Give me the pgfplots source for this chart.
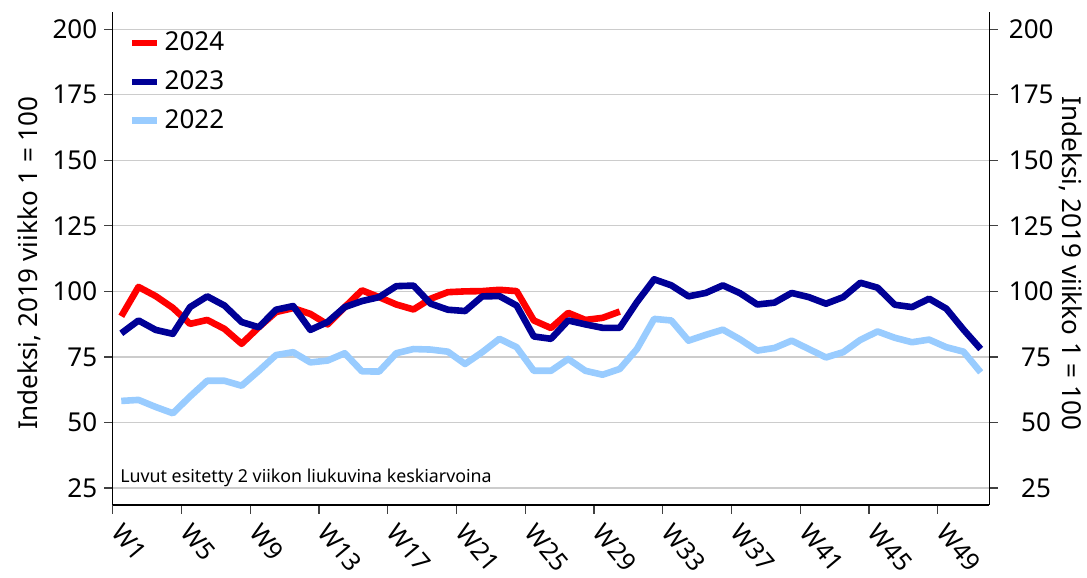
\documentclass[border=0pt]{standalone}
\usepackage{pgfplots}
\pgfplotsset{compat=1.18}
\usepackage{fontspec}
\setmainfont{Noto Sans}
\definecolor{c24}{RGB}{255,0,0}
\definecolor{c23}{RGB}{0,0,150}
\definecolor{c22}{RGB}{153,204,255}
\begin{document}
\begin{tikzpicture}
\path[use as bounding box] (-56.35pt,-36.5pt) rectangle (487.15pt,252.5pt);
\begin{axis}[
  at={(0pt,0pt)}, anchor=south west, scale only axis,
  width=438.3pt, height=246.65pt,
  xmin=1, xmax=52, ymin=18.5, ymax=206.7,
  axis x line*=bottom, axis y line*=left,
  axis line style={line width=0.75pt, black},
  xtick={1,5,9,13,17,21,25,29,33,37,41,45,49},
  xticklabels={W1,W5,W9,W13,W17,W21,W25,W29,W33,W37,W41,W45,W49},
  ytick={25,50,75,100,125,150,175,200},
  ymajorgrids, grid style={gray!40, line width=0.6pt},
  tick align=outside, major tick length=4.25pt,
  tick style={black!75, line width=0.6pt},
  /pgf/number format/assume math mode=true,
  yticklabel style={font=\fontsize{13}{13}\selectfont},
  xticklabel style={font=\fontsize{12.5}{12.5}\selectfont, xshift=6pt, yshift=-2.6pt, rotate=-50, anchor=north west, inner sep=1pt},
  ylabel={Indeksi, 2019 viikko 1 = 100},
  ylabel style={font=\fontsize{13}{13}\selectfont, at={(axis description cs:-0.0947,0.49)}, anchor=center},
  legend style={at={(axis description cs:0,1)}, anchor=north west, xshift=8pt, yshift=-8pt, draw=none, fill=none, font=\fontsize{13}{13}\selectfont, row sep=4.5pt, inner sep=0pt},
  legend cell align=left,
  legend image code/.code={\draw[#1, line width=3.3pt] (0pt,0pt) -- (12.5pt,0pt);},
  every axis plot/.append style={line width=3.3pt, line join=round, mark=none},
]
\addplot[c24] coordinates {
(1.5,90.5)(2.5,101.7)(3.5,98.2)(4.5,93.7)(5.5,87.6)(6.5,89.1)(7.5,85.7)(8.5,80.0)(9.5,86.3)(10.5,92.1)
(11.5,93.6)(12.5,91.4)(13.5,87.4)(14.5,94.0)(15.5,100.4)(16.5,97.8)(17.5,95.0)(18.5,93.1)(19.5,97.2)(20.5,99.7)
(21.5,100.0)(22.5,100.1)(23.5,100.6)(24.5,100.1)(25.5,88.9)(26.5,86.0)(27.5,91.8)(28.5,89.1)(29.5,89.9)(30.5,92.3)};
\addlegendentry{2024}
\addplot[c23] coordinates {
(1.5,84.0)(2.5,88.9)(3.5,85.3)(4.5,83.8)(5.5,94.0)(6.5,98.1)(7.5,94.6)(8.5,88.3)(9.5,86.3)(10.5,93.0)
(11.5,94.4)(12.5,85.3)(13.5,88.3)(14.5,94.0)(15.5,96.3)(16.5,97.8)(17.5,102.0)(18.5,102.2)(19.5,95.3)(20.5,93.0)
(21.5,92.5)(22.5,98.1)(23.5,98.2)(24.5,94.6)(25.5,82.8)(26.5,81.9)(27.5,88.9)(28.5,87.4)(29.5,86.1)(30.5,86.1)
(31.5,95.9)(32.5,104.6)(33.5,102.3)(34.5,98.1)(35.5,99.4)(36.5,102.3)(37.5,99.3)(38.5,95.0)(39.5,95.7)(40.5,99.4)
(41.5,97.8)(42.5,95.3)(43.5,97.8)(44.5,103.3)(45.5,101.4)(46.5,94.9)(47.5,94.0)(48.5,97.2)(49.5,93.4)(50.5,85.4)
(51.5,78.0)};
\addlegendentry{2023}
\addplot[c22] coordinates {
(1.5,58.2)(2.5,58.6)(3.5,55.9)(4.5,53.5)(5.5,59.9)(6.5,65.9)(7.5,65.9)(8.5,64.0)(9.5,69.7)(10.5,75.7)
(11.5,76.8)(12.5,72.9)(13.5,73.6)(14.5,76.4)(15.5,69.5)(16.5,69.4)(17.5,76.4)(18.5,78.0)(19.5,77.8)(20.5,77.0)
(21.5,72.3)(22.5,76.8)(23.5,81.9)(24.5,78.7)(25.5,69.7)(26.5,69.7)(27.5,74.2)(28.5,69.7)(29.5,68.2)(30.5,70.4)
(31.5,78.0)(32.5,89.5)(33.5,88.9)(34.5,81.2)(35.5,83.4)(36.5,85.4)(37.5,81.7)(38.5,77.4)(39.5,78.4)(40.5,81.2)
(41.5,78.0)(42.5,74.8)(43.5,76.8)(44.5,81.5)(45.5,84.7)(46.5,82.3)(47.5,80.6)(48.5,81.6)(49.5,78.7)(50.5,77.0)
(51.5,69.1)};
\addlegendentry{2022}
\node[anchor=base west, font=\fontsize{8.9}{9}\selectfont, inner sep=0pt] at (axis cs:1.42,27.2) {Luvut esitetty 2 viikon liukuvina keskiarvoina};
\end{axis}
\begin{axis}[
  at={(0pt,0pt)}, anchor=south west, scale only axis,
  width=438.3pt, height=246.65pt,
  xmin=1, xmax=52, ymin=18.5, ymax=206.7,
  axis x line=none, axis y line*=right,
  axis line style={line width=0.75pt, black},
  ytick={25,50,75,100,125,150,175,200},
  tick align=outside, major tick length=4.25pt,
  tick style={black!75, line width=0.6pt},
  /pgf/number format/assume math mode=true,
  yticklabel style={font=\fontsize{13}{13}\selectfont, anchor=west, text width=21pt, align=right, xshift=2pt},
  ylabel={Indeksi, 2019 viikko 1 = 100},
  ylabel style={font=\fontsize{13}{13}\selectfont, at={(axis description cs:1.0932,0.49)}, anchor=center, rotate=180},
]
\end{axis}
\end{tikzpicture}
\end{document}
